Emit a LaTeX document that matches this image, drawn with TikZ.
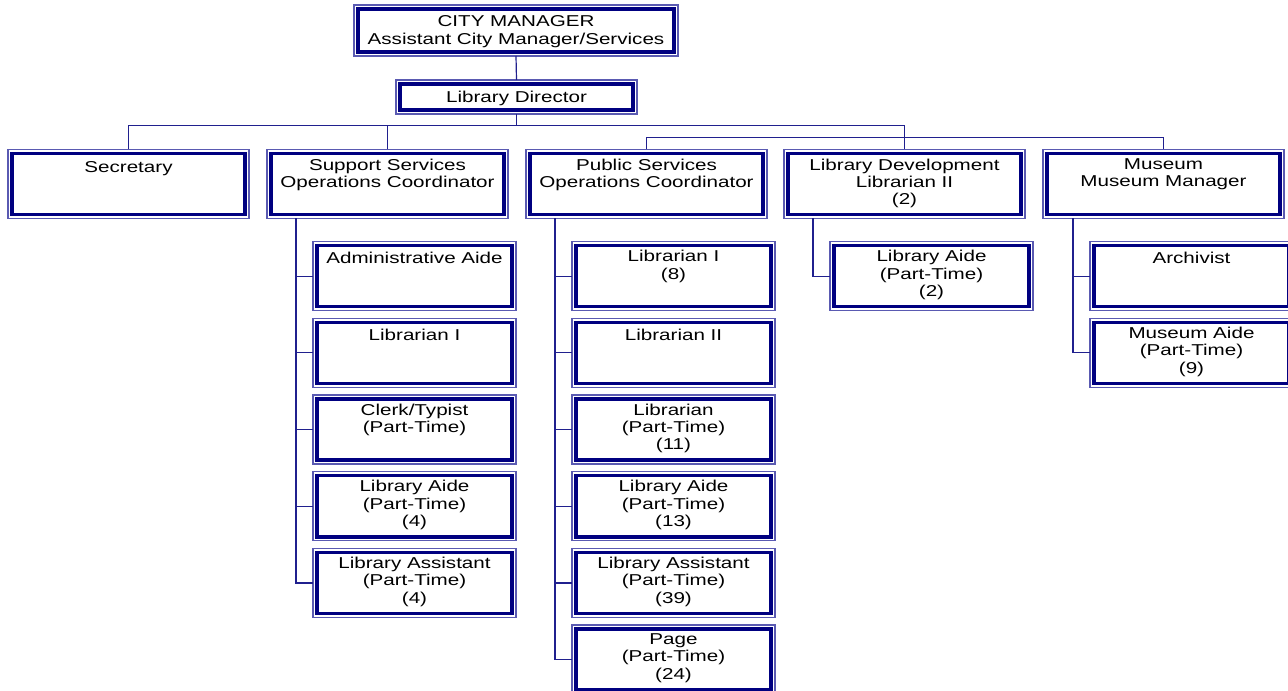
\documentclass[tikz,border=0pt]{standalone}
\usepackage{fontspec}
\setmainfont{Liberation Sans}[FakeStretch=1.31]
\newdimen\pxu
\pxu=0.75pt
\definecolor{outerc}{HTML}{5A5AB2}
\definecolor{innerc}{HTML}{000080}
\definecolor{linec}{HTML}{20208E}
\tikzset{
  box/.style={draw=outerc, line width=1.3\pxu, inner sep=0pt, outer sep=0pt,
    anchor=north west, minimum height=69\pxu, fill=white,
    path picture={\draw[innerc, line width=3.4\pxu]
      ([xshift=3.9\pxu, yshift=3.9\pxu]path picture bounding box.south west) rectangle
      ([xshift=-3.9\pxu, yshift=-3.9\pxu]path picture bounding box.north east);}},
  wide/.style={minimum width=241\pxu},
  sub/.style={minimum width=203\pxu},
  lbl/.style={anchor=north, align=center, inner sep=0pt, text=black,
    font=\fontsize{11.8}{13}\selectfont,
    execute at begin node={\rule{0pt}{10pt}}},
  conn/.style={draw=linec, line width=1.2\pxu},
}
\begin{document}
\begin{tikzpicture}[x=0.75pt, y=-0.75pt]
\useasboundingbox[fill=white] (0,0) rectangle (1288,691);

% coordinates for bars and trunks
\coordinate (barA) at (0,125.5);
\coordinate (barB) at (0,137.6);
\coordinate (trS) at (296,0);
\coordinate (trP) at (555,0);
\coordinate (trL) at (813,0);
\coordinate (trM) at (1073,0);

% top boxes
\node[box, minimum width=324\pxu, minimum height=51\pxu] (cm) at (354,5) {};
\node[box, minimum width=241\pxu, minimum height=34\pxu] (ld) at (396,80) {};

% row 1
\node[box, wide] (sec) at (8,149.5) {};
\node[box, wide] (sup) at (267,149.5) {};
\node[box, wide] (pub) at (526,149.5) {};
\node[box, wide] (dev) at (784,149.5) {};
\node[box, wide] (mus) at (1043,149.5) {};

% support subs
\node[box, sub] (s1) at (313,241.7) {};
\node[box, sub] (s2) at (313,318.4) {};
\node[box, sub] (s3) at (313,395.0) {};
\node[box, sub] (s4) at (313,471.7) {};
\node[box, sub] (s5) at (313,548.4) {};

% public subs
\node[box, sub] (p1) at (572,241.7) {};
\node[box, sub] (p2) at (572,318.4) {};
\node[box, sub] (p3) at (572,395.0) {};
\node[box, sub] (p4) at (572,471.7) {};
\node[box, sub] (p5) at (572,548.4) {};
\node[box, sub] (p6) at (572,625.0) {};

% development sub
\node[box, sub] (d1) at (830,241.7) {};

% museum subs
\node[box, sub] (m1) at (1090,241.7) {};
\node[box, sub] (m2) at (1090,318.4) {};

% labels
\node[lbl] (cmT) at ([yshift=-10.5\pxu]cm.north) {CITY MANAGER\\Assistant City Manager/Services};
\node[lbl] (ldT) at ([yshift=-8.7\pxu]ld.north) {Library Director};
\node[lbl] (secT) at ([yshift=-9\pxu]sec.north) {Secretary};
\node[lbl] (supT) at ([yshift=-9\pxu]sup.north) {Support Services\\Operations Coordinator};
\node[lbl] (pubT) at ([yshift=-9\pxu]pub.north) {Public Services\\Operations Coordinator};
\node[lbl] (devT) at ([yshift=-9\pxu]dev.north) {Library Development\\Librarian II\\(2)};
\node[lbl] (musT) at ([yshift=-9\pxu]mus.north) {Museum\\Museum Manager};

\node[lbl] (s1T) at ([yshift=-8.5\pxu]s1.north) {Administrative Aide};
\node[lbl] (s2T) at ([yshift=-8.5\pxu]s2.north) {Librarian I};
\node[lbl] (s3T) at ([yshift=-8.5\pxu]s3.north) {Clerk/Typist\\(Part-Time)};
\node[lbl] (s4T) at ([yshift=-8.5\pxu]s4.north) {Library Aide\\(Part-Time)\\(4)};
\node[lbl] (s5T) at ([yshift=-8.5\pxu]s5.north) {Library Assistant\\(Part-Time)\\(4)};

\node[lbl] (p1T) at ([yshift=-8.5\pxu]p1.north) {Librarian I\\(8)};
\node[lbl] (p2T) at ([yshift=-8.5\pxu]p2.north) {Librarian II};
\node[lbl] (p3T) at ([yshift=-8.5\pxu]p3.north) {Librarian\\(Part-Time)\\(11)};
\node[lbl] (p4T) at ([yshift=-8.5\pxu]p4.north) {Library Aide\\(Part-Time)\\(13)};
\node[lbl] (p5T) at ([yshift=-8.5\pxu]p5.north) {Library Assistant\\(Part-Time)\\(39)};
\node[lbl] (p6T) at ([yshift=-8.5\pxu]p6.north) {Page\\(Part-Time)\\(24)};

\node[lbl] (d1T) at ([yshift=-8.5\pxu]d1.north) {Library Aide\\(Part-Time)\\(2)};

\node[lbl] (m1T) at ([yshift=-8.5\pxu]m1.north) {Archivist};
\node[lbl] (m2T) at ([yshift=-8.5\pxu]m2.north) {Museum Aide\\(Part-Time)\\(9)};

% connectors top
\draw[conn] (cm.south) -- (ld.north);
\draw[conn] (ld.south) -- (ld.south |- barA);
\draw[conn] (sec.north) -- (sec.north |- barA) -- (dev.north |- barA) -- (dev.north);
\draw[conn] (sup.north) -- (sup.north |- barA);
\draw[conn] (pub.north) -- (pub.north |- barB) -- (mus.north |- barB) -- (mus.north);

% support trunk
\draw[conn] (trS |- sup.south) -- (trS |- s5.west) -- (s5.west);
\foreach \n in {s1,s2,s3,s4} \draw[conn] (trS |- \n.west) -- (\n.west);
% public trunk
\draw[conn] (trP |- pub.south) -- (trP |- p6.west) -- (p6.west);
\foreach \n in {p1,p2,p3,p4,p5} \draw[conn] (trP |- \n.west) -- (\n.west);
% development trunk
\draw[conn] (trL |- dev.south) -- (trL |- d1.west) -- (d1.west);
% museum trunk
\draw[conn] (trM |- mus.south) -- (trM |- m2.west) -- (m2.west);
\draw[conn] (trM |- m1.west) -- (m1.west);
\end{tikzpicture}
\end{document}
